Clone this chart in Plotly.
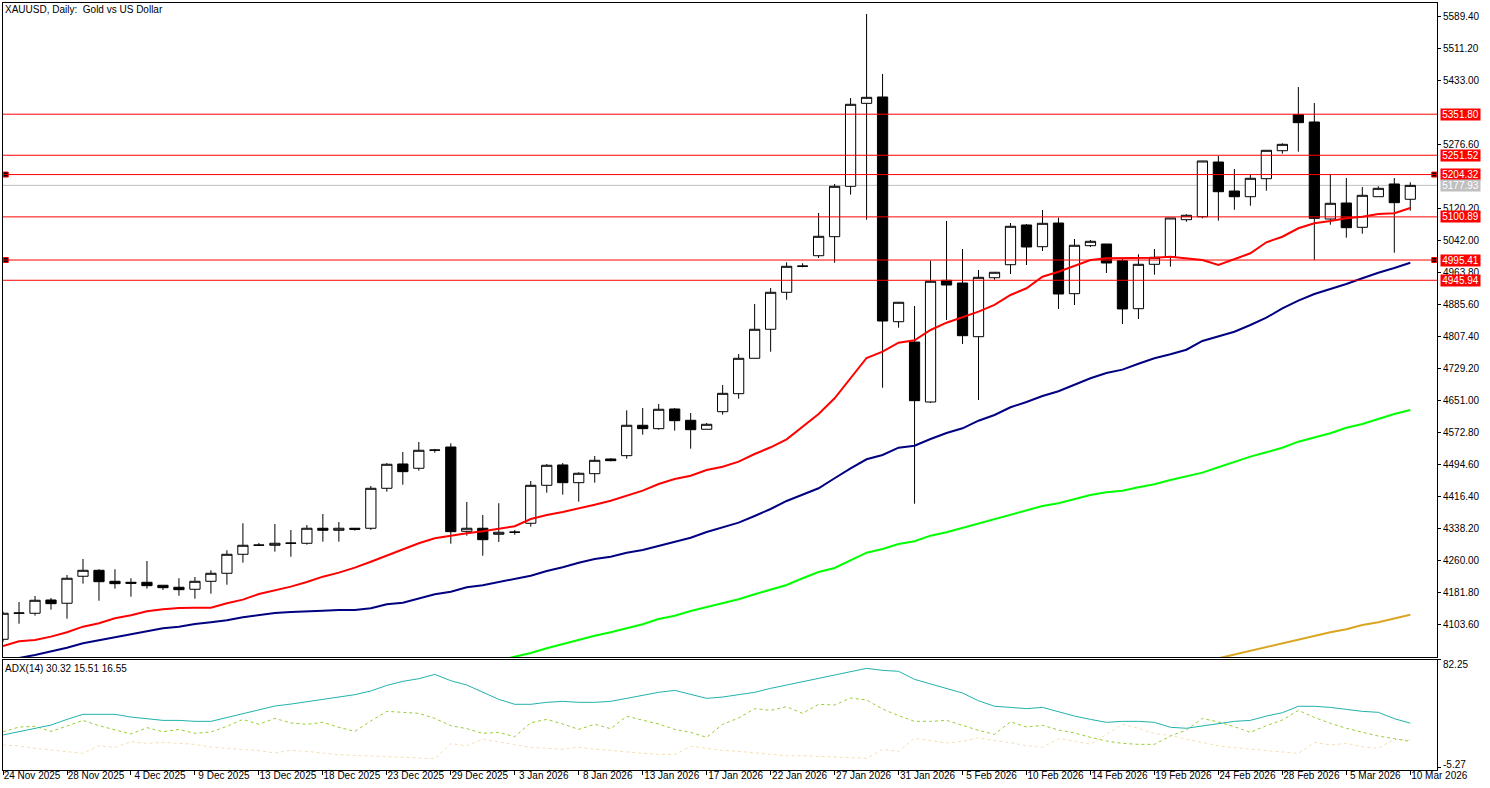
import plotly.graph_objects as go

# Daily OHLC, XAUUSD
opens = [4068.6,4132.2,4132.2,4164.6,4156.6,4222.6,4237.2,4210.3,4207.9,4207.9,
         4200.6,4195.7,4190.8,4210.3,4229.9,4276.3,4298.3,4298.3,4303.2,4303.2,
         4339.9,4335.0,4339.9,4339.9,4437.6,4497.0,4486.5,4530.5,4538.5,4332.5,
         4339.9,4325.2,4330.1,4352.1,4444.9,4494.6,4451.3,4473.3,4509.2,4517.3,
         4591.6,4583.3,4631.4,4603.8,4581.8,4624.8,4668.8,4755.3,4826.2,4916.6,
         4980.1,5006.0,5052.5,5175.6,5378.4,5393.9,4844.7,4795.1,4648.5,4945.9,
         4939.3,4808.1,4952.2,4984.0,5081.1,5028.0,5085.9,4913.2,5030.5,5034.6,
         4993.8,4876.5,4985.0,5003.6,5094.0,5101.3,5235.0,5164.1,5150.2,5194.2,
         5262.6,5350.6,5332.8,5095.7,5134.8,5075.4,5150.2,5181.3,5143.9]
highs = [4136.0,4159.8,4174.4,4169.5,4225.7,4264.8,4239.7,4239.7,4217.7,4259.9,
         4200.6,4217.7,4220.8,4237.2,4286.1,4352.1,4303.9,4350.4,4335.7,4347.9,
         4374.8,4355.2,4340.6,4443.2,4499.4,4526.3,4550.8,4533.7,4547.6,4404.1,
         4372.4,4401.0,4335.7,4455.4,4497.0,4499.4,4476.7,4516.5,4510.9,4628.2,
         4633.8,4643.6,4633.8,4621.6,4597.2,4690.1,4765.8,4888.0,4927.1,4989.9,
         4987.5,5110.4,5181.3,5391.4,5596.7,5450.1,4892.9,4883.1,4993.8,5090.8,
         5022.4,4971.1,4966.2,5085.9,5083.5,5117.7,5098.9,5046.8,5044.4,5034.6,
         4999.7,5009.4,5022.4,5098.2,5107.2,5237.5,5249.7,5217.9,5205.7,5263.6,
         5280.7,5418.3,5379.2,5205.7,5195.9,5173.9,5175.6,5195.9,5185.4]
lows = [4062.0,4106.7,4126.3,4141.0,4118.9,4204.5,4162.9,4192.3,4172.7,4192.3,
        4189.1,4175.1,4167.8,4180.1,4202.0,4255.8,4296.6,4282.7,4270.5,4299.8,
        4307.1,4307.1,4334.0,4335.7,4429.3,4446.4,4480.6,4524.6,4302.2,4321.8,
        4272.9,4306.4,4324.2,4343.8,4426.9,4422.0,4404.9,4451.3,4503.6,4509.9,
        4568.6,4580.8,4578.4,4534.4,4581.8,4617.5,4656.6,4755.3,4771.4,4898.5,
        4977.7,5000.4,4988.9,5155.1,5094.0,4683.4,4830.1,4399.9,4646.1,4848.9,
        4790.2,4653.4,4947.4,4961.3,4983.3,5017.5,4875.8,4885.6,5027.3,4963.8,
        4839.1,4851.3,4959.6,4979.2,5089.1,5097.4,5091.6,5118.4,5128.2,5164.9,
        5255.3,5260.2,4995.5,5081.8,5050.0,5059.8,5150.2,5013.4,5116.0]
closes = [4132.2,4132.8,4163.9,4155.6,4217.7,4237.2,4209.3,4204.5,4205.5,4199.6,
          4194.7,4189.8,4210.3,4229.9,4276.3,4298.3,4298.8,4303.2,4303.6,4339.9,
          4335.0,4339.9,4337.4,4437.6,4496.3,4478.2,4530.5,4531.0,4331.6,4339.9,
          4312.0,4330.1,4330.5,4444.9,4493.8,4451.3,4474.3,4506.0,4505.1,4591.6,
          4583.3,4630.7,4602.8,4580.8,4594.0,4669.7,4755.3,4826.2,4916.6,4980.1,
          4980.6,5053.4,5175.6,5376.0,5393.1,4846.4,4892.2,4651.7,4943.5,4934.4,
          4810.5,4953.2,4965.5,5077.9,5027.3,5085.2,4912.4,5031.5,5041.2,4988.2,
          4875.8,4985.0,5002.1,5098.2,5104.8,5237.5,5162.4,5150.2,5195.2,5263.6,
          5278.2,5331.1,5097.4,5134.1,5074.5,5153.6,5170.7,5135.6,5177.93]

# Moving averages
ma_red = [4052.2,4063.7,4066.9,4075.0,4085.7,4099.4,4107.7,4119.9,4127.3,4137.1,
          4142.0,4145.1,4145.8,4145.8,4156.6,4165.4,4179.3,4187.4,4197.2,4208.6,
          4221.6,4231.4,4243.6,4258.2,4272.9,4288.5,4303.2,4315.4,4321.8,4327.6,
          4332.5,4339.4,4344.8,4362.6,4372.4,4379.7,4387.8,4397.5,4407.3,4419.5,
          4431.8,4448.1,4460.4,4468.4,4482.3,4490.4,4502.6,4521.4,4537.8,4557.3,
          4588.1,4619.2,4657.5,4706.4,4756.0,4771.4,4793.4,4799.3,4824.5,4842.3,
          4855.5,4869.2,4885.6,4910.0,4926.4,4954.7,4966.9,4980.9,4995.5,4999.7,
          5000.4,4999.7,5001.2,5003.6,4998.7,4995.5,4983.3,4997.2,5011.9,5038.8,
          5052.4,5073.0,5085.2,5090.8,5097.4,5101.3,5107.9,5109.6,5122.6]
ma_navy = [4013.1,4022.9,4030.3,4038.3,4048.1,4058.8,4066.2,4073.5,4079.8,4087.2,
           4095.5,4099.4,4106.0,4110.2,4115.0,4122.4,4127.3,4132.9,4135.3,4137.8,
           4138.5,4140.2,4140.2,4144.4,4154.1,4158.1,4168.8,4178.6,4184.9,4195.7,
           4200.6,4208.6,4215.2,4224.0,4235.5,4244.5,4255.8,4264.8,4270.5,4280.2,
           4286.8,4296.6,4306.4,4316.9,4330.8,4341.3,4353.6,4369.9,4387.0,4406.6,
           4421.2,4437.6,4462.1,4486.5,4508.5,4519.0,4536.8,4541.7,4558.1,4572.8,
           4584.2,4602.8,4616.7,4635.6,4648.5,4663.2,4674.7,4690.1,4706.4,4719.4,
           4727.5,4742.1,4755.3,4765.1,4776.3,4797.6,4809.1,4820.3,4836.7,4854.5,
           4877.5,4896.1,4912.4,4923.9,4936.9,4950.8,4964.5,4976.0,4988.9]
ma_green_start = 31
ma_green = [4016.8,4026.1,4035.2,4046.6,4057.1,4066.2,4077.4,4085.7,4095.5,
            4105.3,4118.2,4126.3,4137.8,4146.8,4157.4,4166.4,4178.6,4190.8,4201.3,
            4217.7,4233.1,4242.9,4261.7,4280.2,4289.3,4301.5,4308.1,4321.8,4330.1,
            4340.6,4352.1,4361.9,4372.4,4382.9,4394.4,4401.0,4411.5,4421.2,4427.8,
            4431.8,4440.1,4447.4,4457.9,4466.0,4475.8,4489.0,4501.9,4514.9,4525.6,
            4536.8,4551.5,4562.2,4572.0,4585.7,4594.8,4607.0,4619.2,4629.0]
ma_gold_start = 75
ma_gold = [4013.1,4022.2,4030.3,4040.8,4048.1,4058.8,4066.9,4076.7,4085.7,4093.0,
           4103.6,4110.2,4119.9,4128.7]

# Levels
levels = [5351.80, 5251.52, 5204.32, 5100.89, 4995.41, 4945.94]
marked_levels = [5204.32, 4995.41]
last_price = 5177.93

# ADX(14)
adx = [20.8,23.4,26.2,28.8,33.4,37.5,37.5,37.5,35.3,34.2,
       32.6,32.6,31.8,31.8,35.0,37.8,41.0,44.2,45.8,47.7,
       50.2,52.0,53.4,56.4,60.9,64.2,66.3,69.8,64.7,61.2,
       55.3,49.6,45.6,45.6,47.2,48.0,47.2,47.2,48.0,50.4,
       53.1,55.3,56.9,53.9,50.4,51.5,53.1,55.3,58.5,61.2,
       63.4,66.6,69.0,71.7,74.7,73.1,72.3,65.8,62.0,58.8,
       54.7,48.5,44.0,43.1,42.1,43.1,39.4,36.1,33.4,31.0,
       31.8,31.8,31.0,27.0,26.2,28.0,30.2,31.8,32.6,36.1,
       38.8,44.0,44.0,43.1,41.5,39.9,39.1,34.0,30.32]
plus_di = [23.4,27.2,27.8,23.7,28.0,32.6,28.3,24.8,21.6,26.7,
           23.4,25.3,22.1,23.2,27.8,33.4,29.4,34.2,30.5,29.4,
           31.0,27.0,23.7,32.1,39.9,39.1,38.3,34.2,28.3,25.9,
           22.1,22.9,19.4,30.7,33.4,29.7,25.3,29.4,25.9,35.9,
           32.6,29.7,25.3,22.9,18.9,29.4,34.5,42.1,40.7,43.7,
           38.3,45.6,45.0,50.7,49.1,41.8,36.4,31.8,31.8,32.6,
           28.6,24.5,21.3,31.5,27.2,28.6,24.8,22.4,18.9,15.9,
           14.0,13.2,13.2,19.9,24.8,34.2,31.3,27.5,22.9,28.3,
           32.9,40.7,35.0,30.2,26.2,23.2,19.9,17.8,15.51]
minus_di = [12.7,11.9,10.0,8.6,7.8,5.9,12.1,10.8,15.4,14.0,
            14.8,14.0,13.2,11.0,10.0,8.6,8.1,6.2,8.4,7.5,
            5.9,4.8,4.3,3.8,3.2,3.0,2.4,1.6,13.7,12.1,
            17.3,14.8,12.9,10.8,10.0,9.2,10.8,9.2,8.4,7.0,
            5.9,5.1,5.1,11.6,10.0,8.4,7.5,6.2,5.1,4.0,
            4.0,3.5,2.7,2.4,1.9,9.2,7.5,18.1,15.9,14.3,
            15.6,18.6,16.2,14.6,12.1,10.8,17.8,15.9,13.2,21.3,
            29.4,26.2,21.8,20.5,17.3,14.8,12.1,10.5,9.2,8.4,
            6.7,5.9,14.8,12.7,14.0,11.3,10.0,17.3,16.55]

# Axis labels
date_tick_pos = list(range(0, 89, 4))
date_tick_text = ["24 Nov 2025","28 Nov 2025","4 Dec 2025","9 Dec 2025","13 Dec 2025",
                  "18 Dec 2025","23 Dec 2025","29 Dec 2025","3 Jan 2026","8 Jan 2026",
                  "13 Jan 2026","17 Jan 2026","22 Jan 2026","27 Jan 2026","31 Jan 2026",
                  "5 Feb 2026","10 Feb 2026","14 Feb 2026","19 Feb 2026","24 Feb 2026",
                  "28 Feb 2026","5 Mar 2026","10 Mar 2026"]
price_ticks = [5589.40,5511.20,5433.00,5276.60,5120.20,5042.00,4963.80,
               4885.60,4807.40,4729.20,4651.00,4572.80,4494.60,4416.40,4338.20,4260.00,
               4181.80,4103.60]
adx_ticks = [82.25, -5.27]

FONT = "Liberation Sans"
FS = 10
xs = list(range(len(closes)))
X_RANGE = [-0.002, 89.67]

fig = go.Figure()
fig.add_trace(go.Candlestick(
    x=xs, open=opens, high=highs, low=lows, close=closes,
    increasing=dict(line=dict(color="black", width=1), fillcolor="white"),
    decreasing=dict(line=dict(color="black", width=1), fillcolor="black"),
    whiskerwidth=0, showlegend=False, hoverinfo="skip",
    xaxis="x", yaxis="y"))

def ma(name, values, start, color):
    fig.add_trace(go.Scatter(x=xs[start:], y=values, mode="lines", name=name,
                             line=dict(color=color, width=2), xaxis="x", yaxis="y",
                             showlegend=False, hoverinfo="skip"))

ma("MA gold", ma_gold, ma_gold_start, "#daa520")
ma("MA green", ma_green, ma_green_start, "#00ff00")
ma("MA navy", ma_navy, 0, "#000080")
ma("MA red", ma_red, 0, "#ff0000")

# Level end markers
fig.add_trace(go.Scatter(
    x=[0.17, 0.17, 89.5, 89.5],
    y=[marked_levels[0], marked_levels[1], marked_levels[0], marked_levels[1]],
    mode="markers", marker=dict(symbol="square", size=5, color="black",
                                line=dict(color="#ff0000", width=1)),
    xaxis="x", yaxis="y", showlegend=False, hoverinfo="skip"))

for name, vals, col, dash in [("-DI", minus_di, "#f5deb3", "3px,3px"),
                              ("+DI", plus_di, "#9acd32", "3px,3px"),
                              ("ADX", adx, "#20b2aa", "solid")]:
    fig.add_trace(go.Scatter(x=xs, y=vals, mode="lines", name=name,
                             line=dict(color=col, width=1, dash=dash),
                             xaxis="x2", yaxis="y2", showlegend=False, hoverinfo="skip"))

shapes = [dict(type="line", xref="x", yref="y", x0=X_RANGE[0], x1=X_RANGE[1],
               y0=last_price, y1=last_price, layer="below",
               line=dict(color="#c0c0c0", width=1))]
for lv in levels:
    shapes.append(dict(type="line", xref="x", yref="y", x0=X_RANGE[0], x1=X_RANGE[1],
                       y0=lv, y1=lv, layer="above", line=dict(color="#ff0000", width=1)))

def price_tag(v, bg):
    return dict(x=1, xref="paper", xanchor="left", xshift=3, y=v, yref="y", yanchor="middle",
                text=f"{v:.2f}", showarrow=False, bgcolor=bg, borderpad=0, width=39, height=11,
                font=dict(family=FONT, size=FS, color="white"))

annotations = [price_tag(v, "#ff0000") for v in levels] + [price_tag(last_price, "#c0c0c0")]
annotations += [
    dict(x=0, xref="paper", y=1, yref="paper", xanchor="left", yanchor="top", yshift=1,
         text="XAUUSD, Daily:  Gold vs US Dollar", showarrow=False,
         font=dict(family=FONT, size=FS, color="black")),
    dict(x=0, xref="paper", y=0.1439, yref="paper", xanchor="left", yanchor="top", yshift=-1,
         text="ADX(14) 30.32 15.51 16.55", showarrow=False,
         font=dict(family=FONT, size=FS, color="black")),
    dict(x=1, xref="paper", xanchor="left", xshift=4, y=0.1373, yref="paper", yanchor="middle",
         text=f"{adx_ticks[0]:.2f}", showarrow=False, font=dict(family=FONT, size=FS, color="black")),
    dict(x=1, xref="paper", xanchor="left", xshift=4, y=0.0074, yref="paper", yanchor="middle",
         text=f"{adx_ticks[1]:.2f}", showarrow=False, font=dict(family=FONT, size=FS, color="black")),
]

axis_line = dict(showline=True, linecolor="black", linewidth=1, mirror=True, showgrid=False, zeroline=False)

fig.update_layout(
    width=1490, height=788,
    margin=dict(l=3, r=53, t=3, b=18, pad=0),
    paper_bgcolor="white", plot_bgcolor="white",
    showlegend=False, boxgap=0.36, boxgroupgap=0,
    font=dict(family=FONT, size=FS, color="black"),
    shapes=shapes, annotations=annotations,
    xaxis=dict(domain=[0, 1], range=X_RANGE, anchor="y", showticklabels=False, ticks="",
               rangeslider=dict(visible=False), **axis_line),
    yaxis=dict(domain=[0.1467, 1], range=[4024.1, 5623.6], side="right", anchor="x",
               tickmode="array", tickvals=price_ticks,
               ticktext=[f"{v:.2f}" for v in price_ticks],
               ticks="outside", ticklen=3, tickcolor="black", tickwidth=1,
               tickfont=dict(family=FONT, size=FS), **axis_line),
    xaxis2=dict(domain=[0, 1], range=X_RANGE, anchor="y2", tickmode="array",
                tickvals=date_tick_pos, ticktext=date_tick_text, ticks="outside", ticklen=4,
                tickcolor="black", tickwidth=1, ticklabelshift=29, tickangle=0,
                ticklabelstandoff=-8, tickfont=dict(family=FONT, size=FS), **axis_line),
    yaxis2=dict(domain=[0, 0.1439], range=[-7.56, 81.76], side="right", anchor="x2",
                tickmode="array", tickvals=[81.5, -5.27], ticktext=["", ""],
                ticks="outside", ticklen=3, tickcolor="black", tickwidth=1, **axis_line),
)

fig.write_html("out.html", post_script="document.body.style.margin='0';",
               config=dict(displayModeBar=False))
